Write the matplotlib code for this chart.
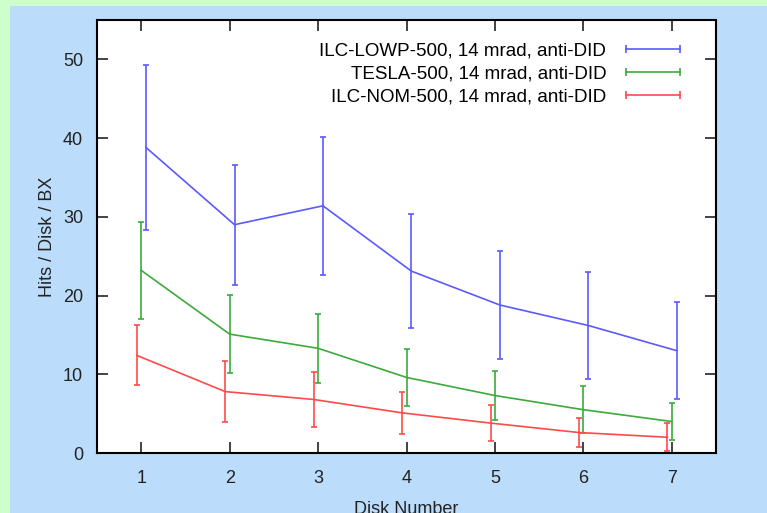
import matplotlib

matplotlib.use("Agg")
import matplotlib.pyplot as plt
from matplotlib.lines import Line2D
from matplotlib.patches import Rectangle

plt.rcParams["font.family"] = ["Liberation Sans", "DejaVu Sans"]

disks = [1, 2, 3, 4, 5, 6, 7]

lowp_hits = [38.8, 29.0, 31.4, 23.1, 18.8, 16.2, 13.0]
lowp_err = [10.5, 7.6, 8.8, 7.2, 6.8, 6.8, 6.2]

tesla_hits = [23.2, 15.1, 13.3, 9.6, 7.3, 5.5, 4.0]
tesla_err = [6.2, 5.0, 4.4, 3.6, 3.1, 3.0, 2.4]

nom_hits = [12.4, 7.8, 6.8, 5.1, 3.8, 2.6, 2.0]
nom_err = [3.8, 3.9, 3.5, 2.7, 2.3, 1.9, 1.8]

labels = [
    "ILC-LOWP-500, 14 mrad, anti-DID",
    "TESLA-500, 14 mrad, anti-DID",
    "ILC-NOM-500, 14 mrad, anti-DID",
]
colors = ["#5a5aff", "#3caa3c", "#ff4a4a"]
offsets = [0.055, 0.0, -0.05]

W, H = 767, 513
fig = plt.figure(figsize=(W / 100, H / 100), dpi=100, facecolor="#ccffcc")
fig.patches.append(
    Rectangle((10 / W, 0), 1, 1 - 6 / H, transform=fig.transFigure,
              facecolor="#bbddfb", edgecolor="none", zorder=-1)
)

ax = fig.add_axes([97 / W, (H - 453) / H, (716 - 97) / W, (453 - 20) / H])
ax.set_facecolor("white")

series = [(lowp_hits, lowp_err), (tesla_hits, tesla_err), (nom_hits, nom_err)]
handles = []
for (vals, errs), c, off, lab in zip(series, colors, offsets, labels):
    xs = [d + off for d in disks]
    ax.errorbar(xs, vals, yerr=errs, color=c, lw=1.2, elinewidth=1.2,
                capsize=2.5, capthick=1.2)
    handles.append(Line2D([], [], color=c, lw=1.2, marker="|",
                          markersize=6, markeredgewidth=1.2, label=lab))

ax.set_xlim(0.5, 7.5)
ax.set_ylim(0, 55)
ax.set_xticks(disks)
ax.set_yticks([0, 10, 20, 30, 40, 50])
ax.tick_params(direction="in", length=8, width=1.2, top=True, right=True,
               labelsize=13, pad=10, colors="#222222")
ax.tick_params(axis="x", pad=12)
for s in ax.spines.values():
    s.set_linewidth(1.5)

ax.set_xlabel("Disk Number", fontsize=13, color="#222222", labelpad=10)
ax.set_ylabel("Hits / Disk / BX", fontsize=13, color="#222222", labelpad=5)

ax.legend(handles=handles, loc="upper right", frameon=False, markerfirst=False,
          numpoints=2, fontsize=13.5, handlelength=3.5, handletextpad=0.75,
          labelspacing=0.32, borderpad=0, borderaxespad=0,
          bbox_to_anchor=(686 / W, 1 - 42 / H), bbox_transform=fig.transFigure)

fig.savefig("out.png", dpi=100, facecolor=fig.get_facecolor())
